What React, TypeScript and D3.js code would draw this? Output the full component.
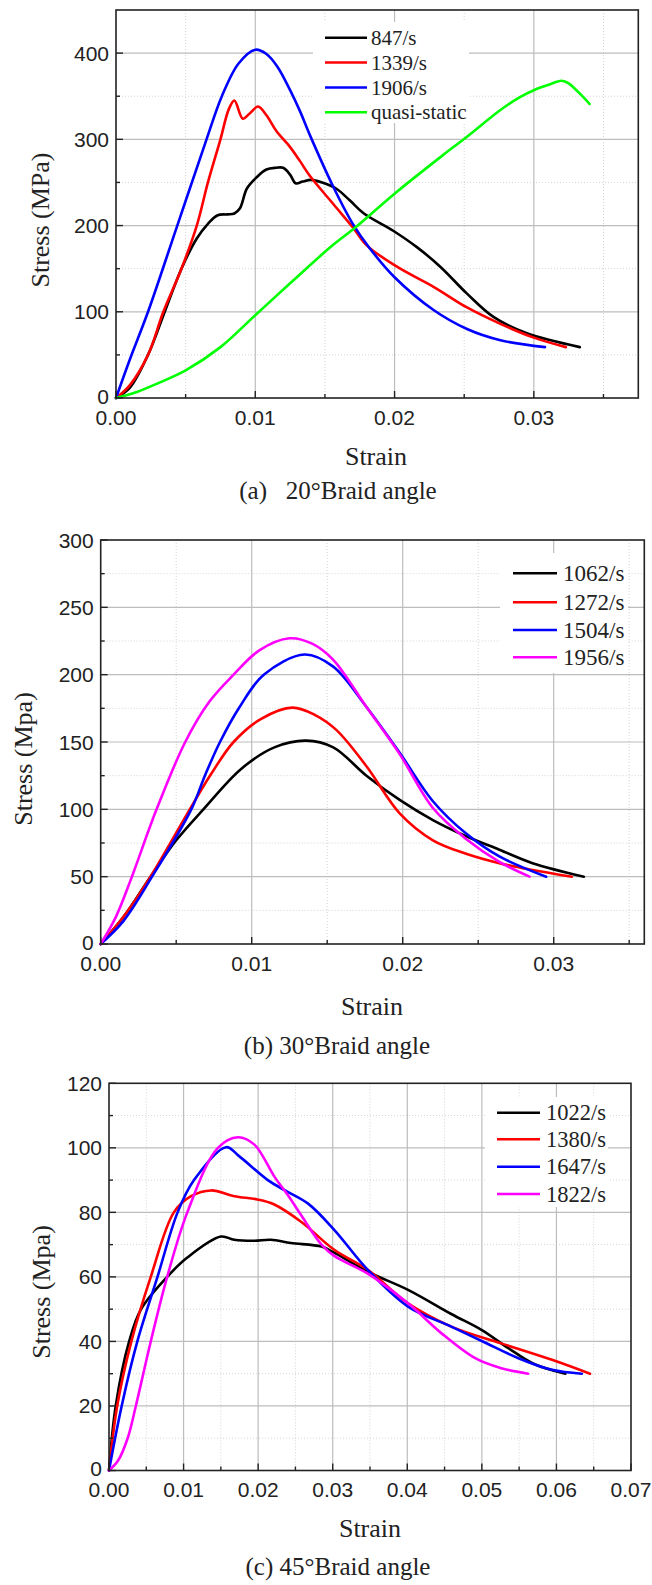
import React from 'react';
import * as d3 from 'd3';

type Pt = [number, number];

// ---------- Panel (a): 20° braid angle ----------
const A_LABELS = ['847/s', '1339/s', '1906/s', 'quasi-static'];
const A_COLORS = ['#000000', '#ff0000', '#0000ff', '#00ff00'];
const A_847: Pt[] = [[0,0],[0.001,12],[0.0023,50],[0.0035,100],[0.0047,150],[0.0058,185],[0.0066,202],[0.0073,212],[0.008,213],[0.0085,214],[0.0089,220],[0.0094,243],[0.0101,256],[0.0108,265],[0.0115,267],[0.012,267],[0.0125,259],[0.0129,249],[0.0134,251],[0.014,253],[0.0148,250],[0.0158,243],[0.0168,229],[0.0178,214],[0.0199,194],[0.0216,175],[0.0233,152],[0.0252,121],[0.0271,94],[0.0295,75],[0.0333,59]];
const A_1339: Pt[] = [[0,0],[0.001,15],[0.0023,50],[0.0034,100],[0.0047,150],[0.0058,200],[0.0066,250],[0.0075,300],[0.0081,335],[0.0085,345],[0.0091,324],[0.0096,330],[0.0102,338],[0.0108,328],[0.0115,310],[0.0125,291],[0.0132,275],[0.0139,258],[0.0156,225],[0.017,198],[0.018,177],[0.0202,152],[0.0228,129],[0.0252,105],[0.0276,86],[0.03,70],[0.0323,59]];
const A_1906: Pt[] = [[0,0],[0.001,45],[0.0023,100],[0.0044,200],[0.0065,300],[0.0076,350],[0.0088,388],[0.01,404],[0.0108,399],[0.0116,384],[0.0125,357],[0.0132,333],[0.014,302],[0.0156,245],[0.017,202],[0.0182,174],[0.02,140],[0.0228,102],[0.0252,80],[0.0276,67],[0.0308,59]];
const A_QS: Pt[] = [[0,0],[0.0015,7],[0.003,17],[0.005,32],[0.0075,59],[0.01,96],[0.0125,133],[0.0154,175],[0.0172,198],[0.02,237],[0.0235,282],[0.0252,303],[0.0276,334],[0.029,349],[0.03,357],[0.031,363],[0.032,368],[0.0325,365],[0.034,341]];

// ---------- Panel (b): 30° braid angle ----------
const B_LABELS = ['1062/s', '1272/s', '1504/s', '1956/s'];
const B_COLORS = ['#000000', '#ff0000', '#0000ff', '#ff00ff'];
const B_1062: Pt[] = [[0,0],[0.0015,20],[0.0033,50],[0.005,77],[0.0068,100],[0.0093,130],[0.0115,146],[0.0136,151],[0.0154,146],[0.0176,125],[0.0198,107],[0.022,92],[0.0242,80],[0.0264,70],[0.0286,60],[0.032,50]];
const B_1272: Pt[] = [[0,0],[0.0015,20],[0.0033,50],[0.0059,100],[0.0073,126],[0.0088,150],[0.0106,167],[0.0127,175.5],[0.0142,170],[0.0156,159],[0.0176,132],[0.0198,97],[0.022,77],[0.0242,67],[0.0264,60],[0.0286,55],[0.0312,50]];
const B_1504: Pt[] = [[0,0],[0.0015,17],[0.0034,50],[0.006,100],[0.0069,125],[0.0079,150],[0.0092,176],[0.0108,200],[0.0135,215],[0.0154,206],[0.0176,176],[0.0198,142],[0.022,106],[0.0242,82],[0.0264,65],[0.0295,50]];
const B_1956: Pt[] = [[0,0],[0.001,20],[0.002,48],[0.0037,100],[0.0056,150],[0.0072,180],[0.0088,200],[0.0105,218],[0.0125,227],[0.014,223],[0.0154,211],[0.0176,176],[0.0198,141],[0.022,101],[0.0242,78],[0.0264,61],[0.0284,50]];

// ---------- Panel (c): 45° braid angle ----------
const C_LABELS = ['1022/s', '1380/s', '1647/s', '1822/s'];
const C_COLORS = ['#000000', '#ff0000', '#0000ff', '#ff00ff'];
const C_1022: Pt[] = [[0,0],[0.0009,20],[0.0027,40],[0.0043,50],[0.0078,60],[0.0105,66],[0.015,72.5],[0.0168,71.5],[0.0195,71.2],[0.0217,71.5],[0.0244,70.5],[0.0285,69.4],[0.0302,67.5],[0.0347,61.6],[0.0401,56],[0.0459,48.5],[0.05,43.5],[0.0535,38],[0.057,33],[0.0612,30]];
const C_1380: Pt[] = [[0,0],[0.0011,20],[0.003,40],[0.0056,60],[0.0087,80],[0.011,85],[0.0137,86.8],[0.0168,85],[0.0199,84],[0.0221,82.5],[0.0258,77],[0.0302,68.4],[0.0347,62.2],[0.0401,51.8],[0.0459,44.6],[0.0526,39.4],[0.0594,34.3],[0.0645,30]];
const C_1647: Pt[] = [[0,0],[0.0017,20],[0.0038,40],[0.0065,60],[0.0092,80],[0.0114,90],[0.0157,100.2],[0.0174,97.5],[0.0213,90],[0.0236,86.8],[0.0267,82.7],[0.0302,74.6],[0.0347,62.2],[0.0401,50.8],[0.0459,44.6],[0.0502,39.9],[0.0549,34.8],[0.0594,31.2],[0.0634,30]];
const C_1822: Pt[] = [[0,0],[0.0012,3],[0.0025,10],[0.0036,20],[0.0056,40],[0.0078,60],[0.0105,80],[0.0146,100],[0.0173,103.3],[0.0195,101],[0.0222,91],[0.024,85.3],[0.0258,79],[0.0285,70],[0.0302,66.5],[0.0347,61],[0.0401,51.8],[0.0446,42.5],[0.0491,34.8],[0.0526,31.7],[0.0562,30]];

const SANS = '"Liberation Sans", Arial, sans-serif';
const SERIF = '"Liberation Serif", "Times New Roman", serif';

interface PanelCfg {
  left: number; right: number; top: number; bottom: number;
  xMax: number; yMax: number; xStep: number; yStep: number;
  series: Pt[][]; colors: string[]; labels: string[];
  legend: { box: [number, number, number, number]; x1: number; x2: number; tx: number; rows: number[]; font: number };
  yTitle: string; yTitlePos: [number, number];
  xTitlePos: [number, number];
  caption: string; captionPos: [number, number];
}

const PANELS: PanelCfg[] = [
  {
    left: 116, right: 638.3, top: 10, bottom: 398, xMax: 0.0375, yMax: 450, xStep: 0.01, yStep: 100,
    series: [A_847, A_1339, A_1906, A_QS], colors: A_COLORS, labels: A_LABELS,
    legend: { box: [313, 22, 156, 101], x1: 325, x2: 367, tx: 371, rows: [37.8, 62.5, 87.5, 112.3], font: 21 },
    yTitle: 'Stress (MPa)', yTitlePos: [40, 220], xTitlePos: [376, 456],
    caption: '(a)   20°Braid angle', captionPos: [338, 490],
  },
  {
    left: 100.7, right: 644.3, top: 540, bottom: 944, xMax: 0.036, yMax: 300, xStep: 0.01, yStep: 50,
    series: [B_1062, B_1272, B_1504, B_1956], colors: B_COLORS, labels: B_LABELS,
    legend: { box: [500, 553, 128, 120], x1: 513, x2: 557, tx: 563, rows: [573.3, 602.3, 630, 657.3], font: 23 },
    yTitle: 'Stress (Mpa)', yTitlePos: [23, 759], xTitlePos: [372, 1006],
    caption: '(b) 30°Braid angle', captionPos: [337, 1045],
  },
  {
    left: 109, right: 631, top: 1083.3, bottom: 1470.5, xMax: 0.07, yMax: 120, xStep: 0.01, yStep: 20,
    series: [C_1022, C_1380, C_1647, C_1822], colors: C_COLORS, labels: C_LABELS,
    legend: { box: [485, 1097, 123, 110], x1: 497, x2: 540, tx: 546, rows: [1112.7, 1139.3, 1166.7, 1194], font: 22.5 },
    yTitle: 'Stress (Mpa)', yTitlePos: [41.7, 1292], xTitlePos: [370, 1528],
    caption: '(c) 45°Braid angle', captionPos: [338, 1566],
  },
];

function stepsTo(max: number, step: number): number[] {
  const n = Math.floor(max / step + 1e-6);
  return d3.range(0, n + 1).map((i) => +(i * step).toFixed(6));
}

function Panel({ p }: { p: PanelCfg }) {
  const x = d3.scaleLinear().domain([0, p.xMax]).range([p.left, p.right]);
  const y = d3.scaleLinear().domain([0, p.yMax]).range([p.bottom, p.top]);
  const xMajor = stepsTo(p.xMax, p.xStep);
  const yMajor = stepsTo(p.yMax, p.yStep);
  const xMinor = stepsTo(p.xMax, p.xStep / 2).filter((v, i) => i % 2 === 1 && v < p.xMax);
  const yMinor = stepsTo(p.yMax, p.yStep / 2).filter((v, i) => i % 2 === 1 && v < p.yMax);
  const line = d3.line<Pt>().x((d) => x(d[0])).y((d) => y(d[1])).curve(d3.curveCatmullRom.alpha(0.5));
  const fmtX = d3.format('.2f');
  const lg = p.legend;
  return (
    <g>
      {xMinor.map((v) => (
        <line key={'gxm' + v} x1={x(v)} x2={x(v)} y1={p.top} y2={p.bottom} stroke="#d4d4d4" strokeWidth={1} strokeDasharray="1,2" />
      ))}
      {yMinor.map((v) => (
        <line key={'gym' + v} x1={p.left} x2={p.right} y1={y(v)} y2={y(v)} stroke="#d4d4d4" strokeWidth={1} strokeDasharray="1,2" />
      ))}
      {xMajor.filter((v) => v > 0 && v < p.xMax).map((v) => (
        <line key={'gx' + v} x1={x(v)} x2={x(v)} y1={p.top} y2={p.bottom} stroke="#bdbdbd" strokeWidth={1.2} />
      ))}
      {yMajor.filter((v) => v > 0 && v < p.yMax).map((v) => (
        <line key={'gy' + v} x1={p.left} x2={p.right} y1={y(v)} y2={y(v)} stroke="#bdbdbd" strokeWidth={1.2} />
      ))}
      <rect x={lg.box[0]} y={lg.box[1]} width={lg.box[2]} height={lg.box[3]} fill="#ffffff" />
      {p.series.map((s, i) => (
        <path key={'s' + i} d={line(s) || ''} fill="none" stroke={p.colors[i]} strokeWidth={2.6} strokeLinejoin="round" strokeLinecap="round" />
      ))}
      <rect x={p.left} y={p.top} width={p.right - p.left} height={p.bottom - p.top} fill="none" stroke="#222" strokeWidth={1.6} />
      {xMajor.map((v) => (
        <line key={'tx' + v} x1={x(v)} x2={x(v)} y1={p.bottom} y2={p.bottom - 7} stroke="#222" strokeWidth={1.4} />
      ))}
      {xMinor.map((v) => (
        <line key={'txm' + v} x1={x(v)} x2={x(v)} y1={p.bottom} y2={p.bottom - 4} stroke="#222" strokeWidth={1.4} />
      ))}
      {yMajor.map((v) => (
        <line key={'ty' + v} x1={p.left} x2={p.left + 7} y1={y(v)} y2={y(v)} stroke="#222" strokeWidth={1.4} />
      ))}
      {yMinor.map((v) => (
        <line key={'tym' + v} x1={p.left} x2={p.left + 4} y1={y(v)} y2={y(v)} stroke="#222" strokeWidth={1.4} />
      ))}
      {xMajor.map((v) => (
        <text key={'lx' + v} x={x(v)} y={p.bottom + 19} textAnchor="middle" dominantBaseline="central" fontFamily={SANS} fontSize={21} fill="#222">
          {fmtX(v)}
        </text>
      ))}
      {yMajor.map((v) => (
        <text key={'ly' + v} x={p.left - 7} y={v === 0 ? y(v) - 2 : y(v)} textAnchor="end" dominantBaseline="central" fontFamily={SANS} fontSize={21} fill="#222">
          {v}
        </text>
      ))}
      {p.labels.map((l, i) => (
        <g key={'lg' + i}>
          <line x1={lg.x1} x2={lg.x2} y1={lg.rows[i]} y2={lg.rows[i]} stroke={p.colors[i]} strokeWidth={2.6} />
          <text x={lg.tx} y={lg.rows[i]} dominantBaseline="central" fontFamily={SERIF} fontSize={lg.font} fill="#222">
            {l}
          </text>
        </g>
      ))}
      <text transform={`translate(${p.yTitlePos[0]},${p.yTitlePos[1]}) rotate(-90)`} textAnchor="middle" dominantBaseline="central" fontFamily={SERIF} fontSize={26} fill="#222">
        {p.yTitle}
      </text>
      <text x={p.xTitlePos[0]} y={p.xTitlePos[1]} textAnchor="middle" dominantBaseline="central" fontFamily={SERIF} fontSize={26} fill="#222">
        Strain
      </text>
      <text x={p.captionPos[0]} y={p.captionPos[1]} textAnchor="middle" dominantBaseline="central" fontFamily={SERIF} fontSize={25} fill="#222" style={{ whiteSpace: 'pre' }}>
        {p.caption}
      </text>
    </g>
  );
}

export default function App() {
  return (
    <svg width={652} height={1585} viewBox="0 0 652 1585" style={{ position: 'absolute', left: 0, top: 0, background: '#fff' }}>
      <rect x={0} y={0} width={652} height={1585} fill="#fff" />
      {PANELS.map((p, i) => (
        <Panel key={i} p={p} />
      ))}
    </svg>
  );
}
